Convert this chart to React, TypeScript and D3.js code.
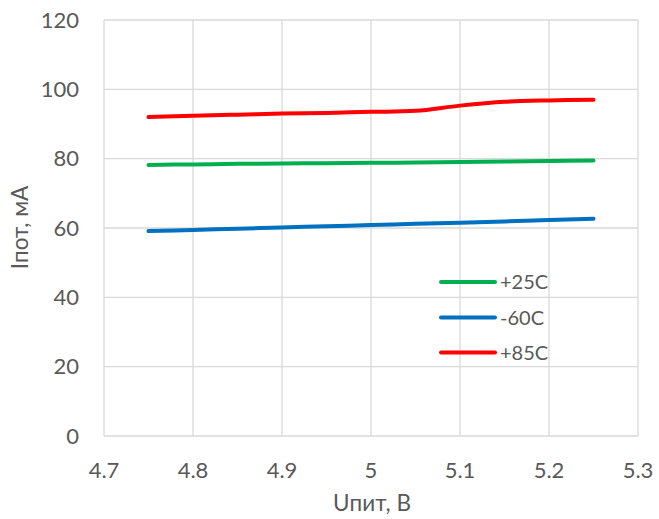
import React from "react";
import * as d3 from "d3";

const voltages = [4.75, 4.8, 4.85, 4.9, 4.95, 5.0, 5.05, 5.1, 5.15, 5.2, 5.25];
const seriesNames = ["+25C", "-60C", "+85C"];
const seriesColors = ["#00B050", "#0070C0", "#FF0000"];
const valuesP25 = [78.2, 78.35, 78.5, 78.6, 78.7, 78.8, 78.9, 79.05, 79.2, 79.35, 79.5];
const valuesM60 = [59.1, 59.45, 59.8, 60.15, 60.5, 60.85, 61.2, 61.55, 61.9, 62.3, 62.7];
const valuesP85 = [92.0, 92.4, 92.7, 93.0, 93.2, 93.5, 93.8, 95.3, 96.4, 96.8, 97.0];
const xTicks = [4.7, 4.8, 4.9, 5.0, 5.1, 5.2, 5.3];
const xTickLabels = ["4.7", "4.8", "4.9", "5", "5.1", "5.2", "5.3"];
const yTicks = [0, 20, 40, 60, 80, 100, 120];
const xTitle = "Uпит, В";
const yTitle = "Iпот, мА";

export default function App() {
  const W = 659, H = 519;
  const left = 104, right = 638, top = 20, bottom = 436;
  const x = d3.scaleLinear().domain([4.7, 5.3]).range([left, right]);
  const y = d3.scaleLinear().domain([0, 120]).range([bottom, top]);
  const all = [valuesP25, valuesM60, valuesP85];
  const line = d3
    .line<number>()
    .x((_, i) => x(voltages[i]))
    .y((d) => y(d))
    .curve(d3.curveCatmullRom);
  const font = "Lato, 'Open Sans', sans-serif";
  const textColor = "#595959";
  const grid = "#D9D9D9";
  const legX = 441, legY = [282, 317.5, 352.5];
  return (
    <svg width={W} height={H} style={{ position: "absolute", left: 0, top: 0 }}>
      <rect width={W} height={H} fill="#fff" />
      {yTicks.map((t) => (
        <line key={"gy" + t} x1={left} x2={right} y1={y(t)} y2={y(t)} stroke={grid} strokeWidth={1.3} />
      ))}
      {xTicks.map((t) => (
        <line key={"gx" + t} x1={x(t)} x2={x(t)} y1={top} y2={bottom} stroke={grid} strokeWidth={1.3} />
      ))}
      {yTicks.map((t) => (
        <text key={"ty" + t} x={left - 25} y={y(t)} dy="0.35em" textAnchor="end" fontFamily={font} fontSize={22} fill={textColor}>
          {t}
        </text>
      ))}
      {xTicks.map((t, i) => (
        <text key={"tx" + t} x={x(t)} y={470.5} dy="0.35em" textAnchor="middle" fontFamily={font} fontSize={22} fill={textColor}>
          {xTickLabels[i]}
        </text>
      ))}
      <text x={372} y={503} dy="0.35em" textAnchor="middle" fontFamily={font} fontSize={22.5} fill={textColor}>
        {xTitle}
      </text>
      <text transform={`translate(20,227.5) rotate(-90)`} dy="0.35em" textAnchor="middle" fontFamily={font} fontSize={22.5} fill={textColor}>
        {yTitle}
      </text>
      {all.map((vals, i) => (
        <path key={"s" + i} d={line(vals) || ""} fill="none" stroke={seriesColors[i]} strokeWidth={4} strokeLinecap="round" />
      ))}
      {seriesNames.map((n, i) => (
        <g key={"l" + i}>
          <line x1={legX} x2={legX + 54} y1={legY[i]} y2={legY[i]} stroke={seriesColors[i]} strokeWidth={4} strokeLinecap="round" />
          <text x={legX + 59} y={legY[i]} dy="0.35em" fontFamily={font} fontSize={20} fill={textColor}>
            {n}
          </text>
        </g>
      ))}
    </svg>
  );
}
